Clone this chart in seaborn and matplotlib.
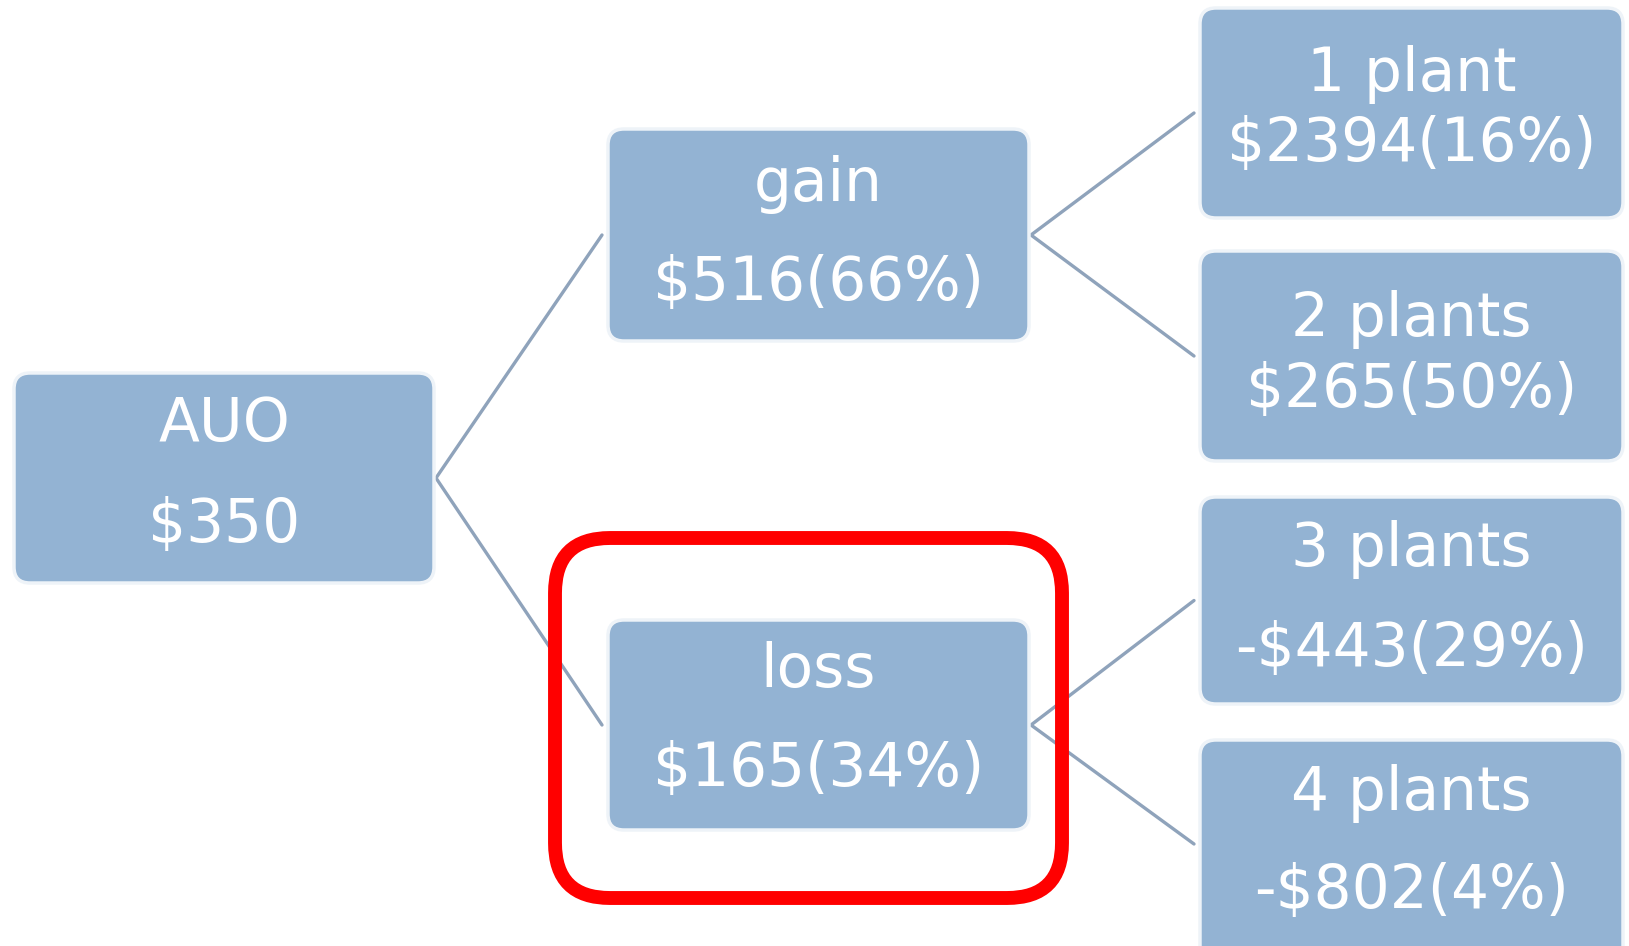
import matplotlib
matplotlib.use("Agg")
import matplotlib.pyplot as plt
from matplotlib.patches import FancyBboxPatch
import seaborn as sns
import pandas as pd

# ---- data ----
node_names = ["AUO", "gain", "loss", "1 plant", "2 plants", "3 plants", "4 plants"]
node_values = ["$350", "$516(66%)", "$165(34%)", "$2394(16%)", "$265(50%)", "-$443(29%)", "-$802(4%)"]
parents = [None, "AUO", "AUO", "gain", "gain", "loss", "loss"]
highlight = "loss"

# ---- layout (pixel coords, y downwards) ----
W, H = 1629, 946
boxes = {
    "AUO": (14, 373, 420, 210),
    "gain": (608, 129, 421, 212),
    "loss": (608, 620, 421, 210),
    "1 plant": (1200, 8, 423, 210),
    "2 plants": (1200, 251, 423, 210),
    "3 plants": (1200, 497, 423, 207),
    "4 plants": (1200, 740, 423, 230),
}
line1_y = {"AUO": 424, "gain": 184, "loss": 670, "1 plant": 75,
           "2 plants": 319, "3 plants": 549, "4 plants": 793}
line2_y = {"AUO": 525, "gain": 283, "loss": 769, "1 plant": 145,
           "2 plants": 390, "3 plants": 649, "4 plants": 891}

sns.set_theme(style="white")
plt.rcParams["font.family"] = ["DejaVu Sans"]

fig = plt.figure(figsize=(W / 100, H / 100), dpi=100)
ax = fig.add_axes([0, 0, 1, 1])

# connectors
rows = []
for name, par in zip(node_names, parents):
    if par is None:
        continue
    px, py, pw, ph = boxes[par]
    cx, cy, cw, chh = boxes[name]
    start = (px + pw + 2, py + ph / 2)
    end_y = cy + (chh if name != "4 plants" else 208) / 2
    end = (cx - 6, end_y)
    rows.append({"edge": name, "x": start[0], "y": start[1]})
    rows.append({"edge": name, "x": end[0], "y": end[1]})
edges = pd.DataFrame(rows)
sns.lineplot(data=edges, x="x", y="y", units="edge", estimator=None, sort=False,
             color="#8fa3bb", linewidth=2.4, ax=ax, legend=False)
ax.set_xlim(0, W)
ax.set_ylim(H, 0)
ax.axis("off")

box_color = "#93b3d3"
for name, val in zip(node_names, node_values):
    x, y, w, h = boxes[name]
    p = FancyBboxPatch((x, y), w, h, boxstyle="round,pad=0,rounding_size=16",
                       facecolor=box_color, edgecolor="#eef3f8", linewidth=2.5, zorder=3)
    ax.add_patch(p)
    cx = x + w / 2
    ax.text(cx, line1_y[name], name, ha="center", va="center", color="white",
            fontsize=43, zorder=4)
    ax.text(cx, line2_y[name], val, ha="center", va="center", color="white",
            fontsize=43, zorder=4)

# highlight rectangle
hx, hy, hw, hh = 555, 538, 507, 360
hl = FancyBboxPatch((hx, hy), hw, hh, boxstyle="round,pad=0,rounding_size=55",
                    facecolor="none", edgecolor="#ff0000", linewidth=10, zorder=5)
ax.add_patch(hl)

fig.savefig("out.png", dpi=100, facecolor="white")
